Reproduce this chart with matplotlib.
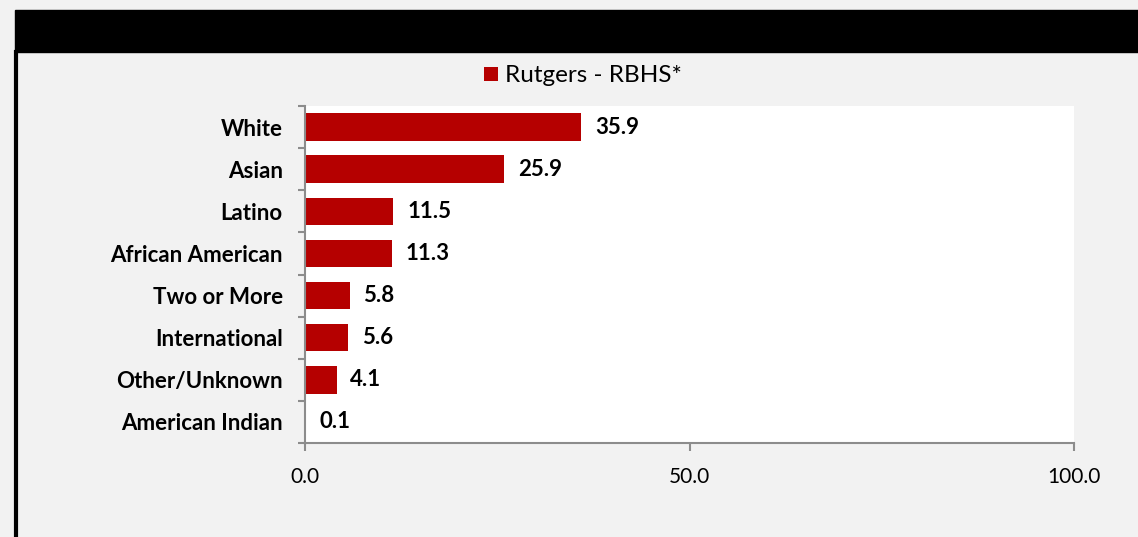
import matplotlib.pyplot as plt
import numpy as np
from matplotlib.patches import Rectangle
from matplotlib.lines import Line2D

categories = ['White', 'Asian', 'Latino', 'African American', 'Two or More',
              'International', 'Other/Unknown', 'American Indian']
values = [35.9, 25.9, 11.5, 11.3, 5.8, 5.6, 4.1, 0.1]
series_name = 'Rutgers - RBHS*'
x_ticks = [0, 50, 100]

bar_color = '#b50000'
axis_gray = '#8c8c8c'
plt.rcParams['font.family'] = ['Lato', 'DejaVu Sans']

fig = plt.figure(figsize=(11.38, 5.37), dpi=100)
fig.patch.set_facecolor('#f2f2f2')

W, H = 1138, 537
# black header band and left frame line
fig.patches.append(Rectangle((15 / W, 1 - 52 / H), 1 - 15 / W, 42 / H,
                             transform=fig.transFigure, color='black'))
fig.lines.append(Line2D([15.5 / W, 15.5 / W], [0, 1 - 52 / H],
                        transform=fig.transFigure, color='black', lw=3))

ax = fig.add_axes([305 / W, 1 - 443 / H, (1074 - 305) / W, (443 - 106) / H])
ax.set_facecolor('white')

y = np.arange(len(categories))
ax.barh(y, values, height=0.65, color=bar_color, label=series_name)
for yi, v in zip(y, values):
    ax.text(v + 1.8, yi, f'{v:.1f}', va='center', ha='left',
            fontsize=16, fontweight='bold')

ax.set_ylim(len(categories) - 0.5, -0.5)
ax.set_xlim(0, 100)
ax.set_yticks(y)
ax.set_yticklabels(categories, fontsize=16, fontweight='bold')
ax.tick_params(axis='y', length=0, pad=16)
ax.set_yticks(np.arange(len(categories) + 1) - 0.5, minor=True)
ax.tick_params(axis='y', which='minor', length=5, color=axis_gray, width=1.5)

ax.set_xticks(x_ticks)
ax.set_xticklabels([f'{t:.1f}' for t in x_ticks], fontsize=15)
ax.tick_params(axis='x', length=6, color=axis_gray, width=1.5, pad=11)

for side in ['top', 'right']:
    ax.spines[side].set_visible(False)
for side in ['left', 'bottom']:
    ax.spines[side].set_color(axis_gray)
    ax.spines[side].set_linewidth(1.5)

fig.legend(loc='center', bbox_to_anchor=(583 / W, 1 - 76 / H), frameon=False,
           fontsize=17.5, handlelength=0.55, handleheight=0.55, handletextpad=0.3)

plt.savefig('out.png', dpi=100, facecolor=fig.get_facecolor())
